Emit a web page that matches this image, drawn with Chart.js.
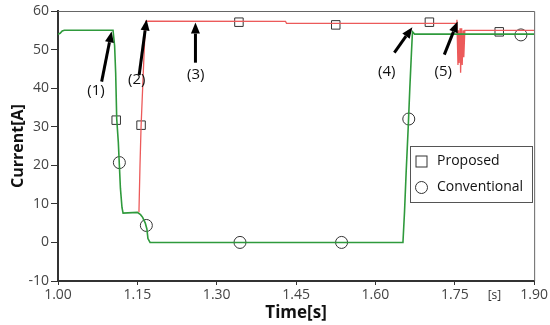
<!DOCTYPE html>
<html>
<head>
<meta charset="utf-8">
<script src="https://cdn.jsdelivr.net/npm/chart.js@4.4.1/dist/chart.umd.min.js"></script>
<style>
  body { margin: 0; background: #fff; }
</style>
</head>
<body>
<canvas id="grafico" width="550" height="325"></canvas>
<script>
// Conventional current (green)
const convT = [1.000, 1.004, 1.008, 1.012, 1.104, 1.107, 1.109, 1.111, 1.114, 1.116, 1.118, 1.121, 1.123,
               1.150, 1.156, 1.160, 1.165, 1.168, 1.170, 1.174, 1.652, 1.655, 1.658, 1.662, 1.665, 1.668, 1.670, 1.674, 1.900];
const convV = [54.0, 54.2, 54.8, 55.0, 55.0, 51.0, 44.0, 32.0, 26.0, 20.0, 14.0, 9.0, 7.6,
               7.8, 7.2, 6.5, 5.0, 3.5, 1.0, 0.0, 0.0, 8.0, 18.0, 30.0, 40.0, 49.0, 54.6, 54.0, 54.0];

// Proposed current (red)
const propT = [1.153, 1.155, 1.157, 1.160, 1.163, 1.165, 1.166, 1.430, 1.432, 1.753, 1.754, 1.756, 1.757,
               1.758, 1.760, 1.761, 1.763, 1.764, 1.766, 1.767, 1.769, 1.772, 1.900];
const propV = [7.8, 20.0, 30.0, 40.0, 50.0, 56.0, 57.4, 57.3, 56.8, 56.8, 57.7, 46.0, 55.0,
               46.5, 55.5, 44.0, 55.5, 46.0, 55.0, 48.0, 55.0, 55.0, 55.0];

// Markers
const squareT = [1.110, 1.157, 1.342, 1.525, 1.702, 1.834];
const squareV = [31.7, 30.4, 57.1, 56.4, 57.1, 54.6];
const circleT = [1.116, 1.167, 1.344, 1.536, 1.663, 1.875];
const circleV = [20.7, 4.4, 0.0, 0.0, 32.0, 53.8];

// Ticks
const xTicks = [1.00, 1.15, 1.30, 1.45, 1.60, 1.75, 1.90];
const yTicks = [-10, 0, 10, 20, 30, 40, 50, 60];

// Arrows (1)..(5): tail, tip and label, in data units
const arrowLabels = ['(1)', '(2)', '(3)', '(4)', '(5)'];
const arrowFrom = [[1.0825, 41.7], [1.1534, 43.4], [1.2598, 46.6], [1.6358, 49.2], [1.7302, 48.7]];
const arrowTo = [[1.1013, 54.7], [1.1674, 57.8], [1.2598, 57.0], [1.6698, 55.8], [1.7553, 57.3]];
const labelAt = [[1.0717, 39.4], [1.1490, 42.1], [1.2604, 43.4], [1.6213, 44.3], [1.7283, 44.3]];

const legendNames = ['Proposed', 'Conventional'];

const FONT = "'Open Sans', 'Noto Sans', sans-serif";

function pares(ts, vs) {
    return ts.map((t, i) => ({ x: t, y: vs[i] }));
}

// Plugin: frame, arrows, legend and the small "[s]"
const extras = {
    id: 'extras',
    afterDatasetsDraw(chart) {
        const ctx = chart.ctx;
        const a = chart.chartArea;
        const sx = chart.scales.x, sy = chart.scales.y;

        // top and right frame
        ctx.save();
        ctx.strokeStyle = '#666';
        ctx.lineWidth = 1;
        ctx.beginPath();
        ctx.moveTo(a.left, a.top + 0.5);
        ctx.lineTo(a.right + 0.5, a.top + 0.5);
        ctx.lineTo(a.right + 0.5, a.bottom);
        ctx.stroke();

        // arrows
        ctx.fillStyle = '#000';
        ctx.strokeStyle = '#000';
        arrowFrom.forEach((f, i) => {
            const x1 = sx.getPixelForValue(f[0]), y1 = sy.getPixelForValue(f[1]);
            const x2 = sx.getPixelForValue(arrowTo[i][0]), y2 = sy.getPixelForValue(arrowTo[i][1]);
            const ang = Math.atan2(y2 - y1, x2 - x1);
            const len = 11, half = 4.5;
            const bx = x2 - len * Math.cos(ang), by = y2 - len * Math.sin(ang);
            ctx.lineWidth = 3;
            ctx.beginPath();
            ctx.moveTo(x1, y1);
            ctx.lineTo(bx, by);
            ctx.stroke();
            ctx.beginPath();
            ctx.moveTo(x2, y2);
            ctx.lineTo(bx + half * Math.sin(ang), by - half * Math.cos(ang));
            ctx.lineTo(bx - half * Math.sin(ang), by + half * Math.cos(ang));
            ctx.closePath();
            ctx.fill();

            ctx.font = '15px ' + FONT;
            ctx.fillStyle = '#111';
            ctx.textAlign = 'center';
            ctx.textBaseline = 'middle';
            ctx.fillText(arrowLabels[i], sx.getPixelForValue(labelAt[i][0]), sy.getPixelForValue(labelAt[i][1]));
            ctx.fillStyle = '#000';
        });

        // legend box
        const lx = 410.5, ly = 146.5, lw = 122, lh = 56;
        ctx.fillStyle = '#fff';
        ctx.fillRect(lx, ly, lw, lh);
        ctx.strokeStyle = '#555';
        ctx.lineWidth = 1;
        ctx.strokeRect(lx, ly, lw, lh);
        ctx.strokeStyle = '#333';
        ctx.strokeRect(416, 156, 11, 11);
        ctx.beginPath();
        ctx.arc(421.5, 187.5, 6, 0, Math.PI * 2);
        ctx.stroke();
        ctx.fillStyle = '#111';
        ctx.font = '14px ' + FONT;
        ctx.textAlign = 'left';
        ctx.textBaseline = 'middle';
        ctx.fillText(legendNames[0], 437, 161);
        ctx.fillText(legendNames[1], 437, 187);

        // small unit label
        ctx.font = '12px ' + FONT;
        ctx.fillStyle = '#333';
        ctx.textAlign = 'center';
        ctx.fillText('[s]', sx.getPixelForValue(1.825), a.bottom + 15);
        ctx.restore();
    }
};

document.addEventListener('DOMContentLoaded', function () {
    const ctx = document.getElementById('grafico').getContext('2d');

    new Chart(ctx, {
        type: 'scatter',
        data: {
            datasets: [{
                label: 'Conventional',
                data: pares(convT, convV),
                showLine: true,
                borderColor: '#2f9a3c',
                borderWidth: 1.6,
                pointRadius: 0
            }, {
                label: 'Proposed',
                data: pares(propT, propV),
                showLine: true,
                borderColor: '#ec5a5a',
                borderWidth: 1.3,
                pointRadius: 0
            }, {
                label: 'Proposed markers',
                data: pares(squareT, squareV),
                pointStyle: 'rect',
                pointRadius: 6,
                borderColor: '#333',
                borderWidth: 1,
                backgroundColor: 'rgba(0,0,0,0)'
            }, {
                label: 'Conventional markers',
                data: pares(circleT, circleV),
                pointStyle: 'circle',
                pointRadius: 6,
                borderColor: '#333',
                borderWidth: 1,
                backgroundColor: 'rgba(0,0,0,0)'
            }]
        },
        options: {
            responsive: false,
            devicePixelRatio: 1,
            animation: false,
            layout: { padding: { top: 11, right: 14, left: 0, bottom: 0 } },
            plugins: {
                legend: { display: false },
                tooltip: { enabled: false }
            },
            scales: {
                x: {
                    type: 'linear',
                    min: 1.0,
                    max: 1.9,
                    afterBuildTicks: s => { s.ticks = xTicks.map(v => ({ value: v })); },
                    afterFit: s => { s.height = 44; },
                    grid: { drawOnChartArea: false, tickLength: 4, color: '#333' },
                    border: { color: '#333', width: 2 },
                    ticks: {
                        padding: 2,
                        color: '#444',
                        font: { family: FONT, size: 14 },
                        callback: v => v.toFixed(2)
                    },
                    title: {
                        display: true,
                        text: 'Time[s]',
                        color: '#111',
                        font: { family: FONT, size: 17, weight: 'bold' },
                        padding: { top: 0, bottom: 2 }
                    }
                },
                y: {
                    min: -10,
                    max: 60,
                    afterBuildTicks: s => { s.ticks = yTicks.map(v => ({ value: v })); },
                    afterFit: s => { s.width = 58; },
                    grid: { drawOnChartArea: false, tickLength: 7, color: '#333' },
                    border: { color: '#333', width: 2 },
                    ticks: {
                        padding: 2,
                        color: '#444',
                        font: { family: FONT, size: 14 }
                    },
                    title: {
                        display: true,
                        text: 'Current[A]',
                        color: '#111',
                        font: { family: FONT, size: 16, weight: 'bold' },
                        padding: { top: 9, bottom: 0 }
                    }
                }
            }
        },
        plugins: [extras]
    });
});
</script>
</body>
</html>
